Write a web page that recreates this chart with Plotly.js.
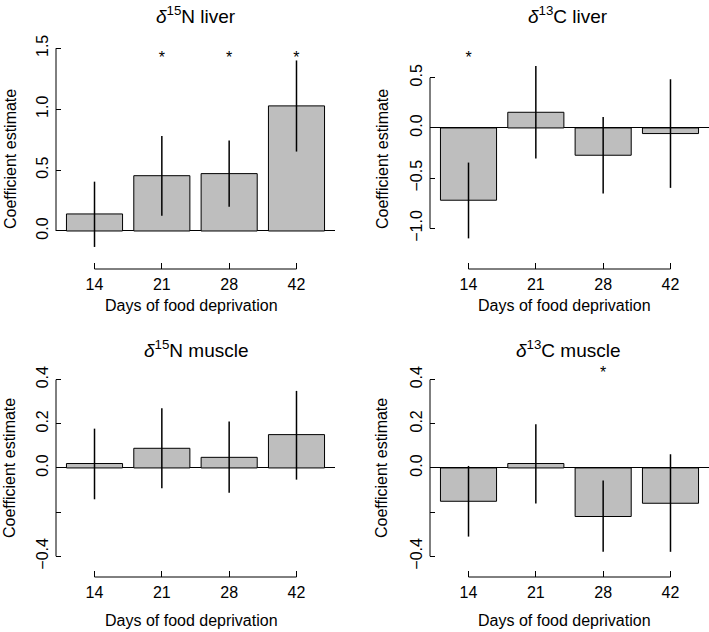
<!DOCTYPE html>
<html>
<head>
<meta charset="utf-8">
<script src="https://cdn.plot.ly/plotly-3.0.1.min.js"></script>
<style>html,body{margin:0;padding:0;background:#fff;}#chart{width:709px;height:632px;}</style>
</head>
<body>
<div id="chart"></div>
<script>
// ---- data ----
const days = ['14', '21', '28', '42'];

const n15LiverEst = [0.14, 0.454, 0.471, 1.027];
const n15LiverLo  = [-0.131, 0.126, 0.200, 0.652];
const n15LiverHi  = [0.405, 0.780, 0.742, 1.400];
const n15LiverSig = [false, true, true, true];

const c13LiverEst = [-0.720, 0.156, -0.272, -0.056];
const c13LiverLo  = [-1.100, -0.305, -0.654, -0.597];
const c13LiverHi  = [-0.345, 0.617, 0.110, 0.485];
const c13LiverSig = [true, false, false, false];

const n15MuscleEst = [0.020, 0.089, 0.048, 0.151];
const n15MuscleLo  = [-0.142, -0.092, -0.112, -0.053];
const n15MuscleHi  = [0.178, 0.270, 0.210, 0.349];
const n15MuscleSig = [false, false, false, false];

const c13MuscleEst = [-0.151, 0.020, -0.220, -0.160];
const c13MuscleLo  = [-0.311, -0.161, -0.380, -0.380];
const c13MuscleHi  = [0.009, 0.198, -0.057, 0.062];
const c13MuscleSig = [false, false, true, false];

const ticksLiverN = [0, 0.5, 1, 1.5];
const tickTextLiverN = ['0.0', '0.5', '1.0', '1.5'];
const ticksLiverC = [-1, -0.5, 0, 0.5];
const tickTextLiverC = ['\u22121.0', '\u22120.5', '0.0', '0.5'];
const ticksMuscle = [-0.4, 0, 0.2, 0.4];
const tickTextMuscle = ['\u22120.4', '0.0', '0.2', '0.4'];
const unlabeledTicksMuscle = [-0.2];

const panelTitles = ['<i>\u03b4</i><sup>15</sup>N liver', '<i>\u03b4</i><sup>13</sup>C liver',
                     '<i>\u03b4</i><sup>15</sup>N muscle', '<i>\u03b4</i><sup>13</sup>C muscle'];
const xTitle = 'Days of food deprivation';
const yTitle = 'Coefficient estimate';

// ---- layout geometry ----
const W = 709, H = 632;
const px = x => x / W, py = y => 1 - y / H;
const FONT = 'Liberation Sans, Arial, Helvetica, sans-serif';

const panels = [
  {est: n15LiverEst, lo: n15LiverLo, hi: n15LiverHi, sig: n15LiverSig, tv: ticksLiverN, tt: tickTextLiverN, minor: [],
   xd: [56, 335], yd: [44, 269], yr: [-0.312, 1.535], star: 1.41, title: panelTitles[0],
   tpos: [196, 15], xtpos: [191, 305], ytpos: [10, 159]},
  {est: c13LiverEst, lo: c13LiverLo, hi: c13LiverHi, sig: c13LiverSig, tv: ticksLiverC, tt: tickTextLiverC, minor: [],
   xd: [430, 709], yd: [44, 269], yr: [-1.405, 0.836], star: 0.69, title: panelTitles[1],
   tpos: [568, 15], xtpos: [564, 305], ytpos: [382, 159]},
  {est: n15MuscleEst, lo: n15MuscleLo, hi: n15MuscleHi, sig: n15MuscleSig, tv: ticksMuscle, tt: tickTextMuscle, minor: unlabeledTicksMuscle,
   xd: [56, 335], yd: [358, 577], yr: [-0.494, 0.498], star: 0.424, title: panelTitles[2],
   tpos: [196, 349], xtpos: [191, 620], ytpos: [10, 468]},
  {est: c13MuscleEst, lo: c13MuscleLo, hi: c13MuscleHi, sig: c13MuscleSig, tv: ticksMuscle, tt: tickTextMuscle, minor: unlabeledTicksMuscle,
   xd: [430, 709], yd: [358, 577], yr: [-0.494, 0.498], star: 0.424, title: panelTitles[3],
   tpos: [568, 349], xtpos: [564, 620], ytpos: [382, 468]}
];

const traces = [];
const layout = {
  width: W, height: H,
  margin: {l: 0, r: 0, t: 0, b: 0},
  paper_bgcolor: '#fff', plot_bgcolor: 'rgba(0,0,0,0)',
  showlegend: false,
  bargap: 0.1667,
  font: {family: FONT, size: 16, color: '#000'},
  shapes: [], annotations: []
};

panels.forEach((p, i) => {
  const k = i === 0 ? '' : String(i + 1);
  const xa = 'x' + k, ya = 'y' + k;
  traces.push({
    type: 'bar', x: days, y: p.est, xaxis: xa, yaxis: ya,
    marker: {color: '#bebebe', line: {color: '#000', width: 1}},
    error_y: {type: 'data', symmetric: false,
      array: p.hi.map((h, j) => h - p.est[j]),
      arrayminus: p.lo.map((l, j) => p.est[j] - l),
      width: 0, thickness: 1.5, color: '#000'},
    hoverinfo: 'skip'
  });
  const sx = days.filter((d, j) => p.sig[j]);
  if (sx.length) {
    traces.push({
      type: 'scatter', mode: 'text', x: sx, y: sx.map(() => p.star),
      text: sx.map(() => '*'), textposition: 'middle center', cliponaxis: false,
      textfont: {size: 16, family: FONT, color: '#000'},
      xaxis: xa, yaxis: ya, hoverinfo: 'skip'
    });
  }
  layout['xaxis' + k] = {
    domain: [px(p.xd[0]), px(p.xd[1])], anchor: ya, type: 'category',
    range: [-0.572, 3.572], ticks: 'inside', ticklen: 6, tickwidth: 1, tickcolor: '#000',
    showline: false, showgrid: false, zeroline: false,
    tickfont: {size: 16, family: FONT, color: '#000'}, ticklabelstandoff: 4, fixedrange: true
  };
  const yax = {
    domain: [py(p.yd[1]), py(p.yd[0])], anchor: xa, range: p.yr,
    tickmode: 'array', tickvals: p.tv, ticktext: p.tt, tickangle: -90,
    ticks: 'inside', ticklen: 5, tickwidth: 1, tickcolor: '#000',
    showline: false, showgrid: false,
    zeroline: true, zerolinecolor: '#000', zerolinewidth: 1,
    tickfont: {size: 16, family: FONT, color: '#000'}, ticklabelstandoff: 4, fixedrange: true
  };
  if (p.minor.length) {
    yax.minor = {tickmode: 'array', tickvals: p.minor, ticks: 'inside', ticklen: 5, tickwidth: 1,
                 tickcolor: '#000', showgrid: false};
  }
  layout['yaxis' + k] = yax;
  // R-style axis lines spanning only first..last tick
  const allY = p.tv.concat(p.minor);
  layout.shapes.push({type: 'line', xref: xa + ' domain', yref: ya, x0: 0, x1: 0,
    y0: Math.min(...allY), y1: Math.max(...allY), line: {color: '#000', width: 1}});
  layout.shapes.push({type: 'line', xref: xa, yref: ya + ' domain', x0: 0, x1: days.length - 1,
    y0: 0, y1: 0, line: {color: '#000', width: 1}});
  layout.annotations.push({text: p.title, xref: 'paper', yref: 'paper', x: px(p.tpos[0]), y: py(p.tpos[1]),
    xanchor: 'center', yanchor: 'middle', showarrow: false, font: {size: 19, family: FONT, color: '#000'}});
  layout.annotations.push({text: xTitle, xref: 'paper', yref: 'paper', x: px(p.xtpos[0]), y: py(p.xtpos[1]),
    xanchor: 'center', yanchor: 'middle', showarrow: false, font: {size: 16, family: FONT, color: '#000'}});
  layout.annotations.push({text: yTitle, xref: 'paper', yref: 'paper', x: px(p.ytpos[0]), y: py(p.ytpos[1]),
    xanchor: 'center', yanchor: 'middle', textangle: -90, showarrow: false,
    font: {size: 16, family: FONT, color: '#000'}});
});

Plotly.newPlot('chart', traces, layout, {displayModeBar: false, staticPlot: true});
</script>
</body>
</html>
